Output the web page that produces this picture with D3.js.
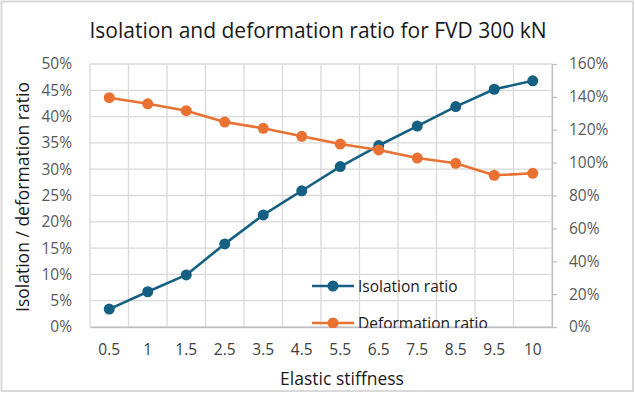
<!DOCTYPE html>
<html><head><meta charset="utf-8">
<script src="https://cdn.jsdelivr.net/npm/d3@7"></script>
<style>body{margin:0;background:#fff}svg{display:block}</style>
</head><body>
<svg id="c" width="635" height="393"></svg>
<script>
const categories = ["0.5","1","1.5","2.5","3.5","4.5","5.5","6.5","7.5","8.5","9.5","10"];
const isolationRatio = [0.034,0.067,0.099,0.158,0.213,0.259,0.305,0.345,0.382,0.419,0.452,0.468];
const deformationRatio = [1.395,1.358,1.316,1.247,1.209,1.160,1.113,1.077,1.028,0.996,0.923,0.935];
const leftTicks = [0,0.05,0.1,0.15,0.2,0.25,0.3,0.35,0.4,0.45,0.5];
const rightTicks = [0,0.2,0.4,0.6,0.8,1.0,1.2,1.4,1.6];
const title = "Isolation and deformation ratio for FVD 300 kN";
const xTitle = "Elastic stiffness";
const yTitle = "Isolation / deformation ratio";
const seriesNames = ["Isolation ratio","Deformation ratio"];

const W=635,H=393;
const m={l:90,r:83,t:64,b:66};
const svg=d3.select("#c");
const font="'Open Sans', 'Noto Sans', sans-serif";
const blue="#156082", orange="#E97132", grid="#d9d9d9", txt="#595959";

svg.append("rect").attr("x",1.5).attr("y",1.5).attr("width",631.5).attr("height",389.5)
  .attr("fill","#fff").attr("stroke",grid).attr("stroke-width",2);

const x=d3.scaleBand().domain(categories).range([m.l,W-m.r]);
const yL=d3.scaleLinear().domain([0,0.5]).range([H-m.b,m.t]);
const yR=d3.scaleLinear().domain([0,1.6]).range([H-m.b,m.t]);

// horizontal gridlines
svg.append("g").selectAll("line").data(leftTicks).join("line")
  .attr("x1",m.l).attr("x2",W-m.r).attr("y1",d=>yL(d)).attr("y2",d=>yL(d))
  .attr("stroke",grid).attr("stroke-width",1.3);
// vertical gridlines at band edges
const edges=categories.map(c=>x(c)).concat([x.range()[1]]);
svg.append("g").selectAll("line").data(edges).join("line")
  .attr("x1",d=>d).attr("x2",d=>d).attr("y1",m.t).attr("y2",H-m.b)
  .attr("stroke",grid).attr("stroke-width",1.3);

// left axis
const gl=svg.append("g").attr("transform",`translate(${m.l},0)`)
  .call(d3.axisLeft(yL).tickValues(leftTicks).tickFormat(d3.format(".0%")).tickSize(0).tickPadding(18));
gl.select(".domain").remove();
gl.selectAll("text").attr("font-family",font).attr("font-size",15.5).attr("fill",txt);

// right axis
const gr=svg.append("g").attr("transform",`translate(${W-m.r},0)`)
  .call(d3.axisRight(yR).tickValues(rightTicks).tickFormat(d3.format(".0%")).tickSize(5).tickSizeOuter(0).tickPadding(12));
gr.select(".domain").attr("stroke","#bfbfbf").attr("stroke-width",1.3);
gr.selectAll(".tick line").attr("stroke","#bfbfbf").attr("stroke-width",1.3);
gr.selectAll("text").attr("font-family",font).attr("font-size",15.5).attr("fill",txt);

// bottom axis
const gb=svg.append("g").attr("transform",`translate(0,${H-m.b})`)
  .call(d3.axisBottom(x).tickSize(0).tickPadding(17));
gb.select(".domain").attr("stroke","#bfbfbf").attr("stroke-width",1.3);
gb.selectAll("text").attr("font-family",font).attr("font-size",15.5).attr("fill","#404040");

// series
const cx=c=>x(c)+x.bandwidth()/2;
const series=[{vals:isolationRatio,y:yL,color:blue},{vals:deformationRatio,y:yR,color:orange}];
series.forEach(s=>{
  const pts=categories.map((c,i)=>[cx(c),s.y(s.vals[i])]);
  svg.append("path").attr("d",d3.line()(pts)).attr("fill","none")
    .attr("stroke",s.color).attr("stroke-width",2.6).attr("stroke-linejoin","round");
  svg.append("g").selectAll("circle").data(pts).join("circle")
    .attr("cx",d=>d[0]).attr("cy",d=>d[1]).attr("r",5.5).attr("fill",s.color);
});

// legend (clipped at plot bottom)
svg.append("clipPath").attr("id","lc").append("rect").attr("x",0).attr("y",0).attr("width",W).attr("height",H-m.b+1);
const lg=svg.append("g").attr("clip-path","url(#lc)");
const ly=[286,323];
seriesNames.forEach((n,i)=>{
  const c=series[i].color;
  lg.append("line").attr("x1",312).attr("x2",354).attr("y1",ly[i]).attr("y2",ly[i]).attr("stroke",c).attr("stroke-width",2.6);
  lg.append("circle").attr("cx",333).attr("cy",ly[i]).attr("r",5.5).attr("fill",c);
  lg.append("text").attr("x",358).attr("y",ly[i]+6).text(n)
    .attr("font-family",font).attr("font-size",15.5).attr("fill","#1a1a1a");
});

// titles
svg.append("text").attr("x",318).attr("y",38).attr("text-anchor","middle").text(title)
  .attr("font-family",font).attr("font-size",21).attr("fill","#1a1a1a");
svg.append("text").attr("x",342).attr("y",385).attr("text-anchor","middle").text(xTitle)
  .attr("font-family",font).attr("font-size",17.5).attr("fill","#1a1a1a");
svg.append("text").attr("transform","translate(29,197) rotate(-90)").attr("text-anchor","middle").text(yTitle)
  .attr("font-family",font).attr("font-size",17.5).attr("fill","#1a1a1a");
</script>
</body></html>
